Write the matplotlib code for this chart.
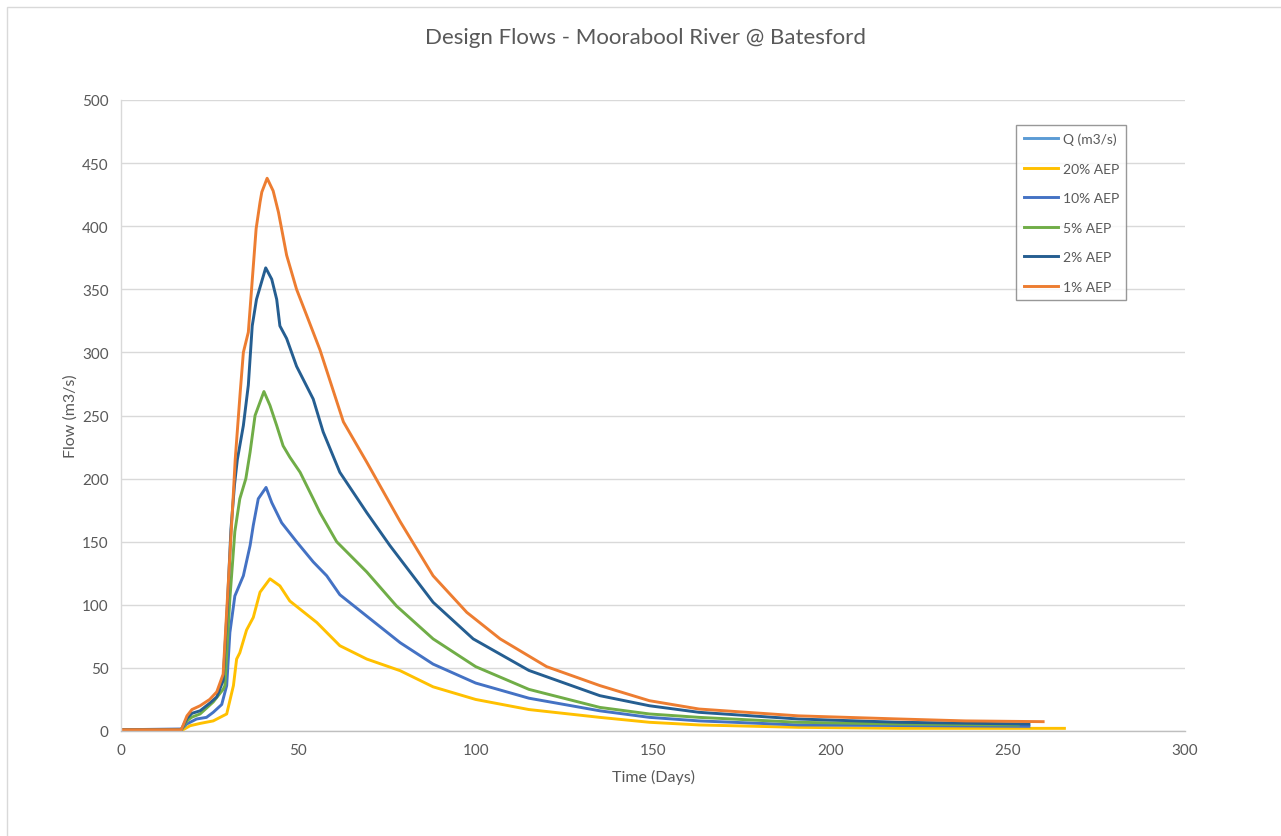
import matplotlib
matplotlib.use("Agg")
import matplotlib.pyplot as plt
from matplotlib.patches import Rectangle

plt.rcParams['font.family'] = ['Lato', 'DejaVu Sans']

# Hydrograph ordinates: time (days) and flow (m3/s) per design event
t_q = []
q_q = []

t_20 = [0, 17.5, 19.5, 22.3, 26, 29.8, 31.7, 32.6, 33.5, 35.4, 37.3, 39.2, 42, 44.8,
        47.6, 55.2, 61.7, 69.3, 78.7, 88, 100, 115, 135, 149, 163, 191, 219.6, 266]
q_20 = [1, 1, 4.2, 6, 8, 13.5, 36, 57, 62, 80, 90, 110, 120.6, 115,
        103, 86, 67.6, 57, 47.8, 35, 25, 17, 10.8, 6.9, 4.8, 2.9, 2.1, 2.1]

t_10 = [0, 17.1, 18.5, 21.3, 24.1, 26, 28.4, 29.8, 30.7, 32.1, 34.5, 36.4, 37.3, 38.7,
        40.9, 42.5, 45.3, 49.5, 54.2, 58, 61.7, 69.3, 78.7, 88, 100, 115, 135, 149,
        163, 191, 256]
q_10 = [1, 1.6, 5.5, 9.5, 10.8, 14.8, 21, 36, 78, 107, 123, 147, 163, 184,
        193, 181, 165, 150, 134, 123, 108, 91, 70, 53, 38, 26, 16, 10.8,
        8, 4.8, 3.7]

t_5 = [0, 17, 18.6, 20, 22.3, 26, 28.8, 29.3, 30.7, 32.1, 33.5, 35.2, 36.4, 37.8,
       40.3, 42, 43.9, 45.7, 47.6, 50.5, 54.2, 56.1, 60.8, 69.3, 77.7, 88, 100,
       115, 135, 149, 163, 191, 219.6, 253]
q_5 = [1, 1, 8, 11, 13.5, 23, 33, 36, 105, 158, 184, 200, 221, 250,
       269, 258, 242, 226, 217, 205, 184, 173, 150, 126, 99, 73, 51,
       33, 18.7, 13.5, 10.8, 6.9, 5.5, 4.8]

t_2 = [0, 17, 18.6, 20, 22.3, 25, 27, 28.8, 30, 31, 32, 32.8, 34.5, 35.9, 37,
       38.2, 40.8, 42.5, 43.9, 44.8, 46.7, 49.5, 54.2, 57, 61.7, 69.3, 75.8, 88,
       99.3, 115, 135, 149, 163, 191, 219.6, 256]
q_2 = [1, 1, 10, 14, 16, 22, 27, 40, 100, 160, 195, 215, 242, 274, 321,
       342, 367, 358, 342, 321, 311, 289, 263, 237, 205, 173, 147, 102,
       73, 48, 28, 20, 14.8, 9.5, 6.9, 5.5]

t_1 = [0, 17, 18.6, 20, 22.3, 25, 27, 28.8, 31.6, 32.2, 33.6, 34.5, 35.9, 38.1,
       39.2, 39.7, 41.2, 42.9, 44.4, 46.7, 49.5, 52.4, 56.1, 62.7, 69.3, 78.7,
       88, 97.5, 106.9, 120, 135, 149, 163, 191, 219.6, 238, 260]
q_1 = [1, 1, 12, 17, 20, 25, 31, 45, 184, 215, 268, 300, 316, 398,
       419, 427, 438, 428, 411, 377, 350, 329, 302, 245, 213, 166,
       123, 94, 73, 51, 36, 24, 17.4, 12, 9.5, 8, 7.4]

series = [
    ("Q (m3/s)", t_q, q_q, "#5B9BD5"),
    ("20% AEP", t_20, q_20, "#FFC000"),
    ("10% AEP", t_10, q_10, "#4472C4"),
    ("5% AEP", t_5, q_5, "#70AD47"),
    ("2% AEP", t_2, q_2, "#255E91"),
    ("1% AEP", t_1, q_1, "#ED7D31"),
]

W, H = 1281, 837
fig = plt.figure(figsize=(W / 100, H / 100), dpi=100)
fig.patch.set_facecolor("white")

# chart area outline
fig.patches.append(Rectangle((7 / W, -0.05), 1.1, 1 - 8 / H + 0.05,
                             transform=fig.transFigure, fill=False,
                             edgecolor="#D9D9D9", linewidth=1.0))

ax = fig.add_axes([121 / W, 1 - 732 / H, (1185 - 121) / W, (732 - 101) / H])

for name, t, q, c in series:
    ax.plot(t, q, color=c, linewidth=2.1, label=name, solid_joinstyle="round")

ax.set_xlim(0, 300)
ax.set_ylim(0, 500)
ax.set_xticks(range(0, 301, 50))
ax.set_yticks(range(0, 501, 50))
ax.grid(axis="y", color="#D9D9D9", linewidth=1.0)
ax.set_axisbelow(True)
for s in ["top", "right"]:
    ax.spines[s].set_visible(False)
ax.spines["left"].set_color("#D9D9D9")
ax.spines["bottom"].set_color("#BFBFBF")
ax.spines["left"].set_linewidth(1.0)
ax.spines["bottom"].set_linewidth(1.0)
ax.tick_params(length=0, labelsize=11, labelcolor="#595959", pad=9)

ax.set_xlabel("Time (Days)", fontsize=11.5, color="#595959", labelpad=8)
ax.set_ylabel("Flow (m3/s)", fontsize=11.5, color="#595959", labelpad=3)

fig.text(645.5 / W, 1 - 38 / H, "Design Flows - Moorabool River @ Batesford",
         ha="center", va="center", fontsize=16, color="#595959")

leg = ax.legend(loc="upper left", bbox_to_anchor=(1016 / W, 1 - 126 / H),
                bbox_transform=fig.transFigure, fontsize=10, frameon=True,
                fancybox=False, edgecolor="#7F7F7F", borderpad=0.55,
                labelspacing=1.26, handlelength=2.5, handletextpad=0.3,
                borderaxespad=0)
leg.get_frame().set_linewidth(1.0)
for txt in leg.get_texts():
    txt.set_color("#595959")

fig.savefig("out.png", dpi=100, facecolor="white")
